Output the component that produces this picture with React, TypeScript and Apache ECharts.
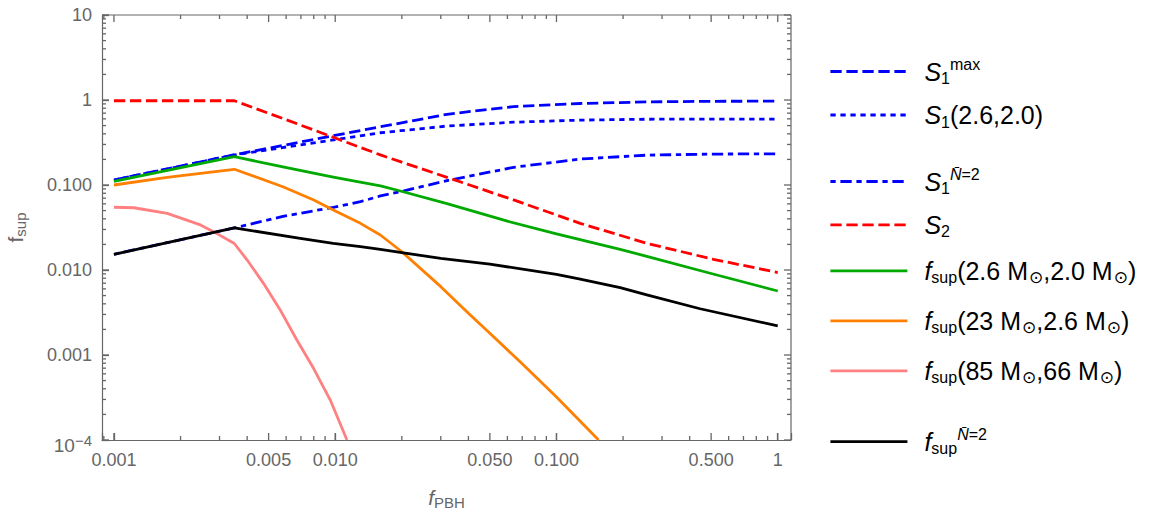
import React, { useEffect, useRef } from "react";
import * as echarts from "echarts";

const FONT = '"Liberation Sans", Arial, Helvetica, sans-serif';
const AXIS_COLOR = "#666666";
const LABEL_COLOR = "#666666";

// axis ranges
const X_MIN = 0.000883;
const X_MAX = 1.148;
const Y_MIN = 0.0001;
const Y_MAX = 10;

// ticks
const xMajorTicks = [0.001, 0.005, 0.01, 0.05, 0.1, 0.5, 1];
const xMajorLabels = ["0.001", "0.005", "0.010", "0.050", "0.100", "0.500", "1"];
const xMinorTicks = [
  0.0009, 0.002, 0.003, 0.004, 0.006, 0.007, 0.008, 0.009,
  0.02, 0.03, 0.04, 0.06, 0.07, 0.08, 0.09,
  0.2, 0.3, 0.4, 0.6, 0.7, 0.8, 0.9,
];
const yMajorTicks = [0.0001, 0.001, 0.01, 0.1, 1, 10];
const yMajorLabels = ["10^-4", "0.001", "0.010", "0.100", "1", "10"];
const yMinorTicks = [
  0.0002, 0.0003, 0.0004, 0.0005, 0.0006, 0.0007, 0.0008, 0.0009,
  0.002, 0.003, 0.004, 0.005, 0.006, 0.007, 0.008, 0.009,
  0.02, 0.03, 0.04, 0.05, 0.06, 0.07, 0.08, 0.09,
  0.2, 0.3, 0.4, 0.5, 0.6, 0.7, 0.8, 0.9,
  2, 3, 4, 5, 6, 7, 8, 9,
];

// series names
const seriesNames = [
  "S1max",
  "S1(2.6,2.0)",
  "S1N=2",
  "S2",
  "fsup(2.6 M,2.0 M)",
  "fsup(23 M,2.6 M)",
  "fsup(85 M,66 M)",
  "fsupN=2",
];

// S1^max (blue dashed)
const s1maxX = [0.001, 0.0035, 0.006, 0.0098, 0.016, 0.0197, 0.032, 0.05, 0.064, 0.128, 0.256, 0.5, 1];
const s1maxY = [0.1145, 0.227, 0.297, 0.38, 0.485, 0.535, 0.679, 0.78, 0.835, 0.909, 0.95, 0.965, 0.97];

// S1(2.6,2.0) (blue dotted)
const s1mX = [0.001, 0.0035, 0.006, 0.0098, 0.016, 0.0197, 0.032, 0.064, 0.128, 0.256, 0.5, 1];
const s1mY = [0.1145, 0.225, 0.28, 0.339, 0.412, 0.435, 0.494, 0.548, 0.58, 0.594, 0.595, 0.595];

// S1^{N=2} (blue dash-dot)
const s1nX = [0.001, 0.0035, 0.0058, 0.0098, 0.013, 0.016, 0.0197, 0.032, 0.064, 0.128, 0.256, 0.5, 1];
const s1nY = [0.0153, 0.0313, 0.0427, 0.0546, 0.0637, 0.0743, 0.0835, 0.1125, 0.1615, 0.202, 0.2245, 0.231, 0.233];

// S2 (red dashed)
const s2X = [0.001, 0.0035, 0.006, 0.0098, 0.016, 0.0197, 0.032, 0.064, 0.128, 0.256, 0.512, 1];
const s2Y = [0.98, 0.98, 0.587, 0.364, 0.226, 0.188, 0.123, 0.0667, 0.0354, 0.0206, 0.01336, 0.00934];

// f_sup(2.6, 2.0) (green)
const fGreenX = [0.001, 0.0035, 0.0058, 0.0098, 0.016, 0.0197, 0.032, 0.06, 0.1, 0.194, 0.256, 0.5, 1];
const fGreenY = [0.11, 0.215, 0.163, 0.124, 0.0975, 0.085, 0.0605, 0.0375, 0.0266, 0.0175, 0.0145, 0.0091, 0.00566];

// f_sup(23, 2.6) (orange)
const fOrangeX = [0.001, 0.00174, 0.00246, 0.0035, 0.0058, 0.008, 0.0098, 0.013, 0.016, 0.02, 0.03, 0.04, 0.05, 0.07, 0.1, 0.155];
const fOrangeY = [0.1, 0.123, 0.1374, 0.153, 0.0955, 0.0667, 0.0508, 0.0354, 0.0258, 0.0164, 0.00637, 0.00309, 0.0018, 0.00079, 0.00032, 0.0001];

// f_sup(85, 66) (pink)
const fPinkX = [0.001, 0.00123, 0.00174, 0.00246, 0.00292, 0.0035, 0.004, 0.00474, 0.00564, 0.00671, 0.00798, 0.0095, 0.0113];
const fPinkY = [0.0547, 0.054, 0.0464, 0.0339, 0.0268, 0.0205, 0.0131, 0.00697, 0.00339, 0.0015, 0.000697, 0.000295, 0.0001];

// f_sup^{N=2} (black)
const fBlackX = [0.001, 0.0035, 0.00695, 0.0098, 0.013, 0.016, 0.02, 0.03, 0.05, 0.1, 0.128, 0.194, 0.256, 0.4457, 1];
const fBlackY = [0.0153, 0.0313, 0.0236, 0.0206, 0.0188, 0.0175, 0.016, 0.0137, 0.0117, 0.0089, 0.0078, 0.0062, 0.0051, 0.0035, 0.0022];

const seriesX = [s1maxX, s1mX, s1nX, s2X, fGreenX, fOrangeX, fPinkX, fBlackX];
const seriesY = [s1maxY, s1mY, s1nY, s2Y, fGreenY, fOrangeY, fPinkY, fBlackY];

// styles
const seriesColors = ["#0000ff", "#0000ff", "#0000ff", "#ff0000", "#00aa00", "#ff8000", "#ff8080", "#000000"];
const seriesDash: any[] = [
  [11.3, 4.7],
  [5.3, 4.7],
  [5.3, 4.7, 11.3, 4.7],
  [11.3, 4.7],
  "solid",
  "solid",
  "solid",
  "solid",
];
const LINE_W = 2.8;

const NBAR = "N\u0304";
const legendTexts = [
  "{it|S}{sub|1}{sup|max}",
  "{it|S}{sub|1}{rm|(2.6,2.0)}",
  "{it|S}{sub|1}{supi|" + NBAR + "}{sup|=2}",
  "{it|S}{sub|2}",
  "{it|f}{sub|sup}{rm|(2.6 M}{sun|\u2299}{rm|,2.0 M}{sun|\u2299}{rm|)}",
  "{it|f}{sub|sup}{rm|(23 M}{sun|\u2299}{rm|,2.6 M}{sun|\u2299}{rm|)}",
  "{it|f}{sub|sup}{rm|(85 M}{sun|\u2299}{rm|,66 M}{sun|\u2299}{rm|)}",
  "{it|f}{sub|sup}{supi|" + NBAR + "}{sup|=2}",
];
const legendCenters = [71.5, 117.5, 181.5, 227.3, 273.3, 323.3, 373.3, 441.7];

function nearestIndex(ticks: number[], v: number) {
  let best = 0;
  let bd = Infinity;
  ticks.forEach((t, i) => {
    const d = Math.abs(Math.log10(t) - Math.log10(v));
    if (d < bd) {
      bd = d;
      best = i;
    }
  });
  return best;
}

function xLabel(v: number) {
  return xMajorLabels[nearestIndex(xMajorTicks, v)];
}
function yLabel(v: number) {
  const s = yMajorLabels[nearestIndex(yMajorTicks, v)];
  if (s === "10^-4") return "{b|10}{e|\u22124}";
  return s;
}

const MAJOR_LEN = 7;
const MINOR_LEN = 4;

export default function App() {
  const ref = useRef<HTMLDivElement>(null);

  useEffect(() => {
    document.body.style.margin = "0";
    if (!ref.current) return;
    const chart = echarts.init(ref.current, null, { renderer: "svg" });

    const xAxis = {
      type: "log",
      logBase: 10,
      min: X_MIN,
      max: X_MAX,
      position: "bottom",
      axisLine: { show: true, onZero: false, lineStyle: { color: AXIS_COLOR, width: 1.2 } },
      axisTick: { show: true, inside: true, length: MAJOR_LEN, lineStyle: { color: AXIS_COLOR, width: 1.3 } },
      axisLabel: {
        show: true,
        customValues: xMajorTicks,
        formatter: xLabel,
        color: LABEL_COLOR,
        fontSize: 18,
        fontFamily: FONT,
        margin: 11,
      },
      splitLine: { show: false },
      minorTick: { show: false },
      minorSplitLine: { show: false },
      name: "{f|f}{s|PBH}",
      nameLocation: "middle",
      nameGap: 44,
      nameTextStyle: {
        color: LABEL_COLOR,
        fontFamily: FONT,
        fontSize: 21,
        rich: {
          f: { fontSize: 21, fontStyle: "italic", fontFamily: FONT, color: LABEL_COLOR, lineHeight: 26 },
          s: { fontSize: 15, fontFamily: FONT, color: LABEL_COLOR, lineHeight: 15, verticalAlign: "bottom" },
        },
      },
    };

    const yAxis = {
      type: "log",
      logBase: 10,
      min: Y_MIN,
      max: Y_MAX,
      position: "left",
      axisLine: { show: true, onZero: false, lineStyle: { color: AXIS_COLOR, width: 1.2 } },
      axisTick: { show: true, inside: true, length: MAJOR_LEN, lineStyle: { color: AXIS_COLOR, width: 1.3 } },
      axisLabel: {
        show: true,
        customValues: yMajorTicks,
        formatter: yLabel,
        color: LABEL_COLOR,
        fontSize: 18,
        fontFamily: FONT,
        margin: 10,
        rich: {
          b: { fontSize: 19, fontFamily: FONT, color: LABEL_COLOR, lineHeight: 19, padding: [10, 0, 0, 0] },
          e: { fontSize: 15, fontFamily: FONT, color: LABEL_COLOR, lineHeight: 15, verticalAlign: "top", padding: [2, 0, 0, 0] },
        },
      },
      name: "{f|f}{s|sup}",
      nameLocation: "middle",
      nameGap: 74,
      nameRotate: 90,
      nameTextStyle: {
        color: LABEL_COLOR,
        fontFamily: FONT,
        fontSize: 21,
        rich: {
          f: { fontSize: 21, fontFamily: FONT, color: LABEL_COLOR, lineHeight: 26 },
          s: { fontSize: 15, fontFamily: FONT, color: LABEL_COLOR, lineHeight: 15, verticalAlign: "bottom" },
        },
      },
      splitLine: { show: false },
      minorTick: { show: false },
      minorSplitLine: { show: false },
    };

    const lineSeries = seriesNames.map((name, i) => ({
      type: "line",
      name,
      data: seriesX[i].map((x, j) => [x, seriesY[i][j]]),
      showSymbol: false,
      symbol: "none",
      clip: true,
      lineStyle: { color: seriesColors[i], width: LINE_W, type: seriesDash[i], cap: "butt", join: "round" },
      itemStyle: { color: seriesColors[i] },
      emphasis: { disabled: true },
      z: 2 + i,
    }));

    const richLegend = {
      it: { fontSize: 25, fontStyle: "italic", fontFamily: FONT, color: "#000", lineHeight: 30 },
      rm: { fontSize: 25, fontFamily: FONT, color: "#000", lineHeight: 30 },
      sub: { fontSize: 16, fontFamily: FONT, color: "#000", lineHeight: 16, verticalAlign: "bottom" },
      sup: { fontSize: 16, fontFamily: FONT, color: "#000", lineHeight: 12, verticalAlign: "top" },
      supi: { fontSize: 16, fontStyle: "italic", fontFamily: FONT, color: "#000", lineHeight: 12, verticalAlign: "top" },
      sun: { fontSize: 17, fontFamily: "DejaVu Sans, sans-serif", color: "#000", lineHeight: 17, verticalAlign: "bottom", padding: [0, 0, 0, 1] },
    };

    const legends = seriesNames.map((name, i) => ({
      show: true,
      data: [name],
      left: 829,
      top: legendCenters[i] - 15,
      orient: "vertical",
      padding: 0,
      itemWidth: 77,
      itemHeight: 30,
      itemGap: 0,
      selectedMode: false,
      lineStyle: { width: LINE_W },
      itemStyle: { color: "rgba(0,0,0,0)", borderWidth: 0, opacity: 0 },
      formatter: () => legendTexts[i],
      textStyle: {
        fontSize: 25,
        fontFamily: FONT,
        color: "#000",
        padding: [0, 0, 0, 12],
        rich: richLegend,
      },
    }));

    chart.setOption({
      animation: false,
      backgroundColor: "#ffffff",
      textStyle: { fontFamily: FONT },
      grid: {
        left: 102,
        top: 15,
        width: 689,
        height: 425,
        show: false,
        containLabel: false,
        outerBoundsMode: "none",
      },
      xAxis,
      yAxis,
      legend: legends,
      series: lineSeries,
    } as any);

    // Frame (top/right lines) and inward ticks on all four sides, positioned
    // through the chart's own axis scales.
    const toX = (v: number) => Number(chart.convertToPixel({ xAxisIndex: 0 } as any, v));
    const toY = (v: number) => Number(chart.convertToPixel({ yAxisIndex: 0 } as any, v));
    const left = toX(X_MIN);
    const right = toX(X_MAX);
    const top = toY(Y_MAX);
    const bottom = toY(Y_MIN);
    const tickStyle = { stroke: AXIS_COLOR, lineWidth: 1.3 };
    const els: any[] = [
      { type: "line", silent: true, z: 50, shape: { x1: left, y1: top, x2: right, y2: top }, style: { stroke: AXIS_COLOR, lineWidth: 1.2 } },
      { type: "line", silent: true, z: 50, shape: { x1: right, y1: top, x2: right, y2: bottom }, style: { stroke: AXIS_COLOR, lineWidth: 1.2 } },
    ];
    const addX = (v: number, len: number) => {
      const x = toX(v);
      els.push({ type: "line", silent: true, z: 50, shape: { x1: x, y1: bottom, x2: x, y2: bottom - len }, style: tickStyle });
      els.push({ type: "line", silent: true, z: 50, shape: { x1: x, y1: top, x2: x, y2: top + len }, style: tickStyle });
    };
    const addY = (v: number, len: number) => {
      const y = toY(v);
      els.push({ type: "line", silent: true, z: 50, shape: { x1: left, y1: y, x2: left + len, y2: y }, style: tickStyle });
      els.push({ type: "line", silent: true, z: 50, shape: { x1: right, y1: y, x2: right - len, y2: y }, style: tickStyle });
    };
    xMajorTicks.forEach((v) => addX(v, MAJOR_LEN));
    xMinorTicks.forEach((v) => addX(v, MINOR_LEN));
    yMajorTicks.forEach((v) => addY(v, MAJOR_LEN));
    yMinorTicks.forEach((v) => addY(v, MINOR_LEN));
    chart.setOption({ graphic: els } as any);

    return () => chart.dispose();
  }, []);

  return <div ref={ref} style={{ width: 1150, height: 518 }} />;
}
